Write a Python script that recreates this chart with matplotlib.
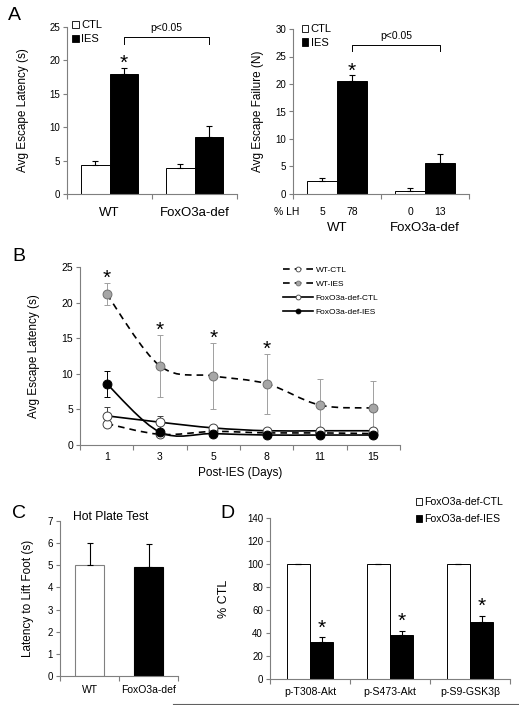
import matplotlib
matplotlib.use('Agg')
import matplotlib.pyplot as plt
from matplotlib.patches import Patch, PathPatch
from matplotlib.path import Path
from matplotlib.lines import Line2D
import matplotlib.transforms as mtrans
import numpy as np

plt.rcParams['font.family'] = ['Liberation Sans', 'DejaVu Sans']

# ---------------- data ----------------
groups_A = ['WT', 'FoxO3a-def']
latency_ctl = [4.3, 3.9]
latency_ctl_err = [0.6, 0.6]
latency_ies = [18.0, 8.6]
latency_ies_err = [0.9, 1.6]

failure_ctl = [2.4, 0.5]
failure_ctl_err = [0.5, 0.6]
failure_ies = [20.6, 5.6]
failure_ies_err = [1.0, 1.7]
pct_lh_ctl = ['5', '0']
pct_lh_ies = ['78', '13']

days = ['1', '3', '5', '8', '11', '15']
wt_ctl = [3.0, 1.5, 1.9, 1.7, 1.7, 1.6]
wt_ctl_err = [0.3, 0.2, 0.2, 0.2, 0.2, 0.2]
wt_ies = [21.2, 11.1, 9.7, 8.6, 5.6, 5.2]
wt_ies_err = [1.6, 4.3, 4.6, 4.2, 3.7, 3.8]
fox_ctl = [4.1, 3.2, 2.4, 2.0, 2.0, 2.0]
fox_ctl_err = [1.3, 0.9, 0.3, 0.2, 0.3, 0.2]
fox_ies = [8.6, 1.8, 1.6, 1.4, 1.4, 1.4]
fox_ies_err = [1.8, 0.3, 0.2, 0.2, 0.2, 0.2]
sig_days_B = [0, 1, 2, 3]

hot_groups = ['WT', 'FoxO3a-def']
hot_latency = [5.0, 4.93]
hot_err = [1.0, 1.02]

proteins = ['p-T308-Akt', 'p-S473-Akt', 'p-S9-GSK3β']
pct_ctl = [100, 100, 100]
pct_ies = [32.0, 38.3, 49.6]
pct_ies_err = [4.5, 3.8, 5.4]

# ---------------- figure ----------------
W, H = 519, 705
fig = plt.figure(figsize=(W / 100, H / 100), dpi=100)
SPINE = '#7f7f7f'


def add_ax(x0, y0, x1, y1):
    return fig.add_axes([x0 / W, 1 - y1 / H, (x1 - x0) / W, (y1 - y0) / H])


def fy(py):
    return 1 - py / H


def fx(px):
    return px / W


def style(ax, labelsize=7):
    for s in ['top', 'right']:
        ax.spines[s].set_visible(False)
    for s in ['left', 'bottom']:
        ax.spines[s].set_color(SPINE)
        ax.spines[s].set_linewidth(0.8)
    ax.tick_params(axis='y', direction='out', length=3, width=0.8, color=SPINE,
                   labelsize=labelsize, pad=2)
    ax.tick_params(axis='x', which='major', length=0, labelbottom=False)
    ax.tick_params(axis='x', which='minor', length=3.5, width=0.8, color=SPINE,
                   direction='out')


def cat_axis(ax, n):
    ax.set_xlim(-0.5, n - 0.5)
    ax.set_xticks(np.arange(n))
    ax.set_xticks(np.arange(n + 1) - 0.5, minor=True)


def bars(ax, x, vals, errs, w, color):
    ax.bar(x, vals, w, color=color, edgecolor='black', linewidth=0.7, zorder=2)
    ax.errorbar(x, vals, yerr=[np.zeros(len(vals)), errs], fmt='none', ecolor='black',
                elinewidth=0.8, capsize=2.5, capthick=0.8, zorder=3)


def star(ax, x, y, size=15):
    tr = mtrans.offset_copy(ax.transData, fig=fig, y=-3.4, units='points')
    ax.text(x, y, '*', transform=tr, ha='center', va='center', fontsize=size,
            clip_on=False)


def bracket(ax, x0, x1, y, ydrop, ytext):
    ax.plot([x0, x0, x1, x1], [ydrop, y, y, ydrop], color='black', lw=0.7, clip_on=False)
    ax.text((x0 + x1) / 2, ytext, 'p<0.05', ha='center', va='center', fontsize=7.5,
            clip_on=False)


def sq_legend(ax, labels, anchor, fontsize, spacing):
    handles = [Patch(facecolor='white', edgecolor='black', linewidth=0.6),
               Patch(facecolor='black', edgecolor='black', linewidth=0.6)]
    ax.legend(handles, labels, loc='upper left', bbox_to_anchor=anchor, frameon=False,
              fontsize=fontsize, handlelength=0.6, handleheight=0.6, handletextpad=0.2,
              labelspacing=spacing, borderaxespad=0, borderpad=0)


# ---------------- Panel A left ----------------
axA1 = add_ax(67, 27, 237, 194)
style(axA1)
cat_axis(axA1, 2)
xA = np.arange(len(groups_A))
wA = 0.34
bars(axA1, xA - wA / 2, latency_ctl, latency_ctl_err, wA, 'white')
bars(axA1, xA + wA / 2, latency_ies, latency_ies_err, wA, 'black')
axA1.set_ylim(0, 25)
axA1.set_yticks(np.arange(0, 26, 5))
axA1.set_ylabel('Avg Escape Latency (s)', fontsize=8.5)
axA1.yaxis.set_label_coords(-0.225, 0.5)
bracket(axA1, xA[0] + wA / 2, xA[1] + wA / 2, 23.5, 22.4, 24.8)
star(axA1, xA[0] + wA / 2, latency_ies[0] + latency_ies_err[0] + 1.4)
trA1 = mtrans.blended_transform_factory(axA1.transData, fig.transFigure)
for i, g in enumerate(groups_A):
    axA1.text(xA[i], fy(213), g, transform=trA1, ha='center', va='center', fontsize=9.5)
sq_legend(axA1, ['CTL', 'IES'], (0.03, 1.04), 8, 0.35)

# ---------------- Panel A right ----------------
axA2 = add_ax(293, 29, 469, 194)
style(axA2)
cat_axis(axA2, 2)
bars(axA2, xA - wA / 2, failure_ctl, failure_ctl_err, wA, 'white')
bars(axA2, xA + wA / 2, failure_ies, failure_ies_err, wA, 'black')
axA2.set_ylim(0, 30)
axA2.set_yticks(np.arange(0, 31, 5))
axA2.set_ylabel('Avg Escape Failure (N)', fontsize=8.5)
axA2.yaxis.set_label_coords(-0.165, 0.5)
bracket(axA2, xA[0] + wA / 2, xA[1] + wA / 2, 27.1, 26.0, 28.7)
star(axA2, xA[0] + wA / 2, failure_ies[0] + failure_ies_err[0] + 1.5)
trA2 = mtrans.blended_transform_factory(axA2.transData, fig.transFigure)
for i, g in enumerate(groups_A):
    axA2.text(xA[i] - wA / 2, fy(212), pct_lh_ctl[i], transform=trA2, ha='center',
              va='center', fontsize=7.5)
    axA2.text(xA[i] + wA / 2, fy(212), pct_lh_ies[i], transform=trA2, ha='center',
              va='center', fontsize=7.5)
    axA2.text(xA[i], fy(228), g, transform=trA2, ha='center', va='center', fontsize=9.5)
fig.text(fx(287), fy(212), '% LH', ha='center', va='center', fontsize=7.5)
sq_legend(axA2, ['CTL', 'IES'], (0.05, 1.03), 8, 0.35)

# ---------------- Panel B ----------------
axB = add_ax(80, 267, 400, 445)
style(axB, labelsize=7.5)
cat_axis(axB, len(days))
xB = np.arange(len(days))
axB.set_ylim(0, 25)
axB.set_yticks(np.arange(0, 26, 5))
axB.set_ylabel('Avg Escape Latency (s)', fontsize=8.5)
axB.yaxis.set_label_coords(-0.125, 0.5)


def smooth(ax, xs, ys, **kw):
    pts = np.column_stack([xs, ys]).astype(float)
    n = len(pts)
    verts = [pts[0]]
    codes = [Path.MOVETO]
    for i in range(n - 1):
        p0 = pts[max(i - 1, 0)]
        p1 = pts[i]
        p2 = pts[i + 1]
        p3 = pts[min(i + 2, n - 1)]
        c1 = p1 + (p2 - p0) / 6
        c2 = p2 - (p3 - p1) / 6
        verts += [c1, c2, p2]
        codes += [Path.CURVE4] * 3
    ax.add_patch(PathPatch(Path(verts, codes), facecolor='none', **kw))


# error bars
axB.errorbar(xB, wt_ies, yerr=wt_ies_err, fmt='none', ecolor='#a0a0a0', elinewidth=0.7,
             capsize=2, capthick=0.7, zorder=1)
axB.errorbar(xB, wt_ctl, yerr=wt_ctl_err, fmt='none', ecolor='#404040', elinewidth=0.7,
             capsize=2, capthick=0.7, zorder=1)
axB.errorbar(xB, fox_ctl, yerr=fox_ctl_err, fmt='none', ecolor='#404040', elinewidth=0.7,
             capsize=2, capthick=0.7, zorder=1)
axB.errorbar(xB, fox_ies, yerr=fox_ies_err, fmt='none', ecolor='black', elinewidth=0.7,
             capsize=2, capthick=0.7, zorder=1)

dash = (0, (4, 3))
smooth(axB, xB, wt_ctl, edgecolor='black', linewidth=1.2, linestyle=dash, zorder=2)
smooth(axB, xB, wt_ies, edgecolor='black', linewidth=1.2, linestyle=dash, zorder=2)
smooth(axB, xB, fox_ctl, edgecolor='black', linewidth=1.2, zorder=2)
smooth(axB, xB, fox_ies, edgecolor='black', linewidth=1.2, zorder=2)

ms = 6.4
axB.plot(xB, wt_ctl, 'o', ms=ms, mfc='white', mec='#404040', mew=0.7, zorder=3)
axB.plot(xB, wt_ies, 'o', ms=ms, mfc='#a6a6a6', mec='#707070', mew=0.7, zorder=3)
axB.plot(xB, fox_ctl, 'o', ms=ms, mfc='white', mec='#404040', mew=0.7, zorder=3)
axB.plot(xB, fox_ies, 'o', ms=ms, mfc='black', mec='black', mew=0.7, zorder=3)

for i in sig_days_B:
    star(axB, xB[i], wt_ies[i] + wt_ies_err[i] + 1.3)

trB = mtrans.blended_transform_factory(axB.transData, fig.transFigure)
for i, d in enumerate(days):
    axB.text(xB[i], fy(457), d, transform=trB, ha='center', va='center', fontsize=7.5)
fig.text(fx(240), fy(473), 'Post-IES (Days)', ha='center', va='center', fontsize=8.5)

legB = [
    Line2D([], [], color='black', lw=1.2, linestyle=dash, marker='o', ms=3.5,
           mfc='white', mec='#404040', mew=0.6),
    Line2D([], [], color='black', lw=1.2, linestyle=dash, marker='o', ms=3.5,
           mfc='#a6a6a6', mec='#707070', mew=0.6),
    Line2D([], [], color='black', lw=1.2, marker='o', ms=3.5, mfc='white', mec='#404040',
           mew=0.6),
    Line2D([], [], color='black', lw=1.2, marker='o', ms=3.5, mfc='black', mec='black',
           mew=0.6),
]
axB.legend(legB, ['WT-CTL', 'WT-IES', 'FoxO3a-def-CTL', 'FoxO3a-def-IES'],
           loc='upper left', bbox_to_anchor=((283 - 80) / 320, (445 - 266) / 178),
           frameon=False, fontsize=6, handlelength=3.6, handletextpad=0.3,
           labelspacing=0.75, borderaxespad=0, borderpad=0, numpoints=1)

# ---------------- Panel C ----------------
axC = add_ax(60, 521, 178, 676)
style(axC)
cat_axis(axC, len(hot_groups))
xC = np.arange(len(hot_groups))
axC.bar(xC, hot_latency, 0.5, color=['white', 'black'], edgecolor=['#808080', 'black'],
        linewidth=0.8, zorder=2)
axC.errorbar(xC, hot_latency, yerr=[np.zeros(2), hot_err], fmt='none', ecolor='black',
             elinewidth=0.8, capsize=2.5, capthick=0.8, zorder=3)
axC.set_ylim(0, 7)
axC.set_yticks(np.arange(0, 8, 1))
axC.set_ylabel('Latency to Lift Foot (s)', fontsize=8.5)
axC.yaxis.set_label_coords(-0.22, 0.5)
trC = mtrans.blended_transform_factory(axC.transData, fig.transFigure)
for i, g in enumerate(hot_groups):
    axC.text(xC[i], fy(690), g, transform=trC, ha='center', va='center', fontsize=7.5)
fig.text(fx(111), fy(517), 'Hot Plate Test', ha='center', va='center', fontsize=8.7)

# ---------------- Panel D ----------------
axD = add_ax(270, 518, 510, 679)
style(axD)
cat_axis(axD, len(proteins))
xD = np.arange(len(proteins))
wD = 0.29
bars(axD, xD - wD / 2, pct_ctl, [0, 0, 0], wD, 'white')
axD.bar(xD + wD / 2, pct_ies, wD, color='black', edgecolor='black', linewidth=0.7, zorder=2)
axD.errorbar(xD + wD / 2, pct_ies, yerr=[np.zeros(3), pct_ies_err], fmt='none',
             ecolor='black', elinewidth=0.8, capsize=2.5, capthick=0.8, zorder=3)
for i in range(len(proteins)):
    star(axD, xD[i] + wD / 2, pct_ies[i] + pct_ies_err[i] + 12)
axD.set_ylim(0, 140)
axD.set_yticks(np.arange(0, 141, 20))
axD.set_ylabel('% CTL', fontsize=9)
axD.yaxis.set_label_coords(-0.165, 0.5)
trD = mtrans.blended_transform_factory(axD.transData, fig.transFigure)
for i, p in enumerate(proteins):
    axD.text(xD[i], fy(692), p, transform=trD, ha='center', va='center', fontsize=7.6)
handlesD = [Patch(facecolor='white', edgecolor='black', linewidth=0.6),
            Patch(facecolor='black', edgecolor='black', linewidth=0.6)]
fig.legend(handlesD, ['FoxO3a-def-CTL', 'FoxO3a-def-IES'], loc='upper left',
           bbox_to_anchor=(fx(416), fy(497)), frameon=False, fontsize=7.6,
           handlelength=0.6, handleheight=0.6, handletextpad=0.2, labelspacing=0.7,
           borderaxespad=0, borderpad=0)

# ---------------- panel letters ----------------
for lab, px, py in [('A', 14, 16), ('B', 19, 256), ('C', 19, 513), ('D', 227, 513)]:
    fig.text(fx(px), fy(py), lab, ha='center', va='center', fontsize=14)

# bottom rule
fig.add_artist(Line2D([fx(173), fx(519)], [fy(703.5), fy(703.5)], color='#606060',
                      lw=0.8, transform=fig.transFigure))

fig.savefig('out.png', dpi=100)
